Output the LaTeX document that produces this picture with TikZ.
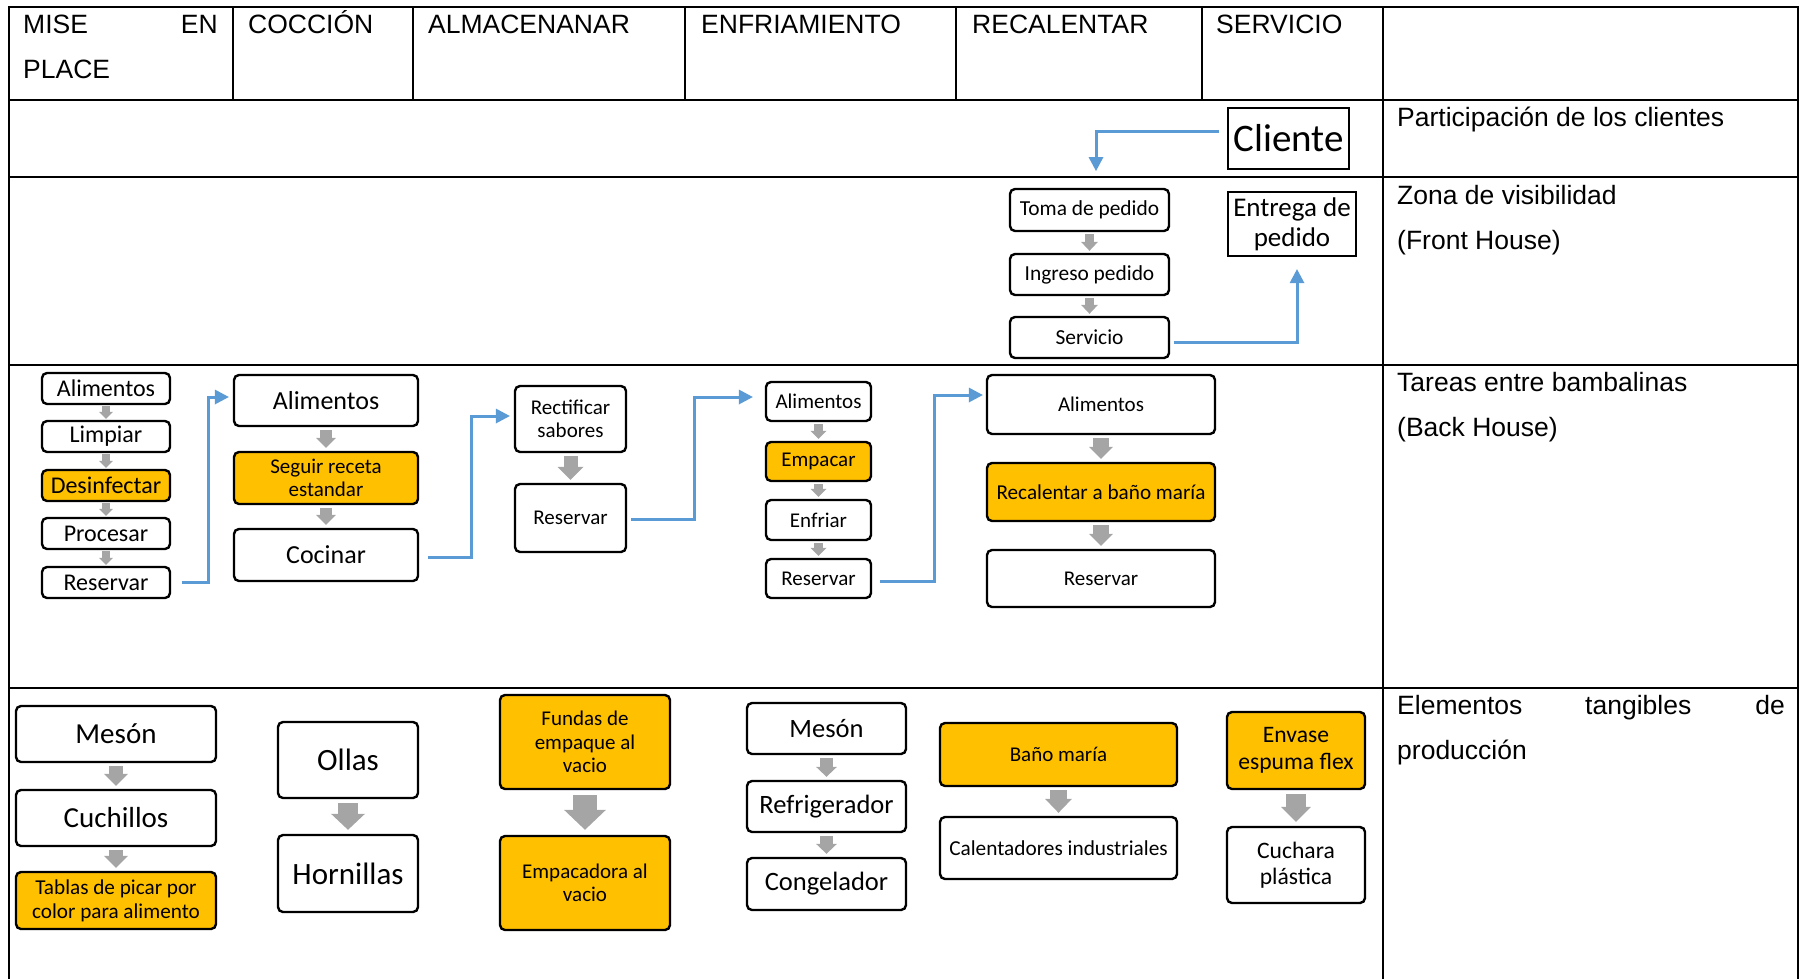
\documentclass[tikz,border=0pt]{standalone}
\usepackage{fontspec}
\setmainfont{Liberation Sans}
\newfontfamily\carl{Carlito}
\usetikzlibrary{arrows.meta,calc}
\definecolor{orangeF}{HTML}{FFC000}
\definecolor{blueL}{HTML}{5B9BD5}
\definecolor{grayA}{HTML}{A5A5A5}
\newcommand\fz[1]{\fontsize{#1}{\fpeval{1.12*#1}}\selectfont}
\newcommand\gar[6]{\draw[garr, line width=#3pt, -{Triangle[width=#4pt,length=#5pt,line width=0pt]}] ([yshift=-#6pt]#1.south) -- ([yshift=#6pt]#2.north);}
\tikzset{
  bx/.style={draw=black, line width=2.4pt, rounded corners=5pt, fill=white, inner sep=0pt, align=center},
  obx/.style={bx, fill=orangeF},
  sq/.style={draw=black, line width=2.4pt, inner sep=0pt, align=center, fill=white},
  bl/.style={draw=blueL, line width=3pt, -{Triangle[width=15pt,length=14pt,line width=0pt]}},
  garr/.style={draw=grayA},
  tbl/.style={line width=2.2pt, line cap=rect},
  hd/.style={anchor=base west, inner sep=0pt, font=\fontsize{26.5}{30}\selectfont},
}
\begin{document}
\begin{tikzpicture}[x=1pt,y=1pt]
\useasboundingbox (0,0) rectangle (1800,-978);
% table
\draw[tbl] (9,-7) -- (1798,-7);
\draw[tbl] (9,-100) -- (1798,-100);
\draw[tbl] (9,-177) -- (1798,-177);
\draw[tbl] (9,-365) -- (1798,-365);
\draw[tbl] (9,-688) -- (1798,-688);
\draw[tbl] (9,-7) -- (9,-978);
\draw[tbl] (1383,-7) -- (1383,-978);
\draw[tbl] (1798,-7) -- (1798,-978);
\foreach \xx in {233,413,685,956,1202} \draw[tbl] (\xx,-7) -- (\xx,-100);
% headers
\node[hd] (h1a) at (23,-33) {MISE};
\node[hd, anchor=base east] (h1b) at (218,-33) {EN};
\node[hd] (h1c) at (23,-78) {PLACE};
\node[hd] (h2) at (248,-33) {COCCIÓN};
\node[hd] (h3) at (428,-33) {ALMACENANAR};
\node[hd] (h4) at (701,-33) {ENFRIAMIENTO};
\node[hd] (h5) at (972,-33) {RECALENTAR};
\node[hd] (h6) at (1216,-33) {SERVICIO};
\node[hd] (r1) at (1397,-126) {Participación de los clientes};
\node[hd] (r2a) at (1397,-204) {Zona de visibilidad};
\node[hd] (r2b) at (1397,-249) {(Front House)};
\node[hd] (r3a) at (1397,-391) {Tareas entre bambalinas};
\node[hd] (r3b) at (1397,-436) {(Back House)};
\node[hd] (r4a) at (1397,-714) {Elementos};
\node[hd] (r4b) at (1585,-714) {tangibles};
\node[hd, anchor=base east] (r4c) at (1785,-714) {de};
\node[hd] (r4d) at (1397,-759) {producción};
% customer row
\node[sq, minimum width=121pt, minimum height=61pt, font=\carl\fz{39}] (cl) at (1288.5,-138.5) {Cliente};
\coordinate (clend) at (1096,-171);
\draw[bl] ([xshift=-8pt,yshift=7.5pt]cl.west) -| (clend);
% front house
\node[bx, minimum width=159pt, minimum height=42pt, font=\carl\fz{21.4}] (tp) at (1089.5,-210) {Toma de pedido};
\node[bx, minimum width=159pt, minimum height=41pt, font=\carl\fz{21.4}] (ip) at (1089.5,-274.5) {Ingreso pedido};
\node[bx, minimum width=159pt, minimum height=41pt, font=\carl\fz{21.4}] (sv) at (1089.5,-337.5) {Servicio};
\node[sq, minimum width=128pt, minimum height=64pt, font=\carl\fz{27}] (ep) at (1292,-224) {Entrega de\\pedido};
\gar{tp}{ip}{9}{17}{9}{2}
\gar{ip}{sv}{9}{17}{9}{2}
\draw[bl] ([xshift=4pt,yshift=-4.5pt]sv.east) -| ([xshift=5pt,yshift=-12pt]ep.south);
% back house col 1
\node[bx, minimum width=128pt, minimum height=31pt, font=\carl\fz{24}] (a1) at (106,-388.5) {Alimentos};
\node[bx, minimum width=128pt, minimum height=31pt, font=\carl\fz{24}] (a2) at (106,-436.5) {Limpiar};
\node[obx, minimum width=128pt, minimum height=31pt, font=\carl\fz{24}] (a3) at (106,-485.5) {Desinfectar};
\node[bx, minimum width=128pt, minimum height=31pt, font=\carl\fz{24}] (a4) at (106,-533.5) {Procesar};
\node[bx, minimum width=128pt, minimum height=31pt, font=\carl\fz{24}] (a5) at (106,-582.5) {Reservar};
\gar{a1}{a2}{8}{14}{7}{1}
\gar{a2}{a3}{8}{14}{7}{1}
\gar{a3}{a4}{8}{14}{7}{1}
\gar{a4}{a5}{8}{14}{7}{1}
% col 2
\node[bx, minimum width=184pt, minimum height=51pt, font=\carl\fz{26}] (b1) at (326,-400.5) {Alimentos};
\node[obx, minimum width=184pt, minimum height=52pt, font=\carl\fz{21}] (b2) at (326,-478) {Seguir receta\\estandar};
\node[bx, minimum width=184pt, minimum height=52pt, font=\carl\fz{26}] (b3) at (326,-555) {Cocinar};
\gar{b1}{b2}{12}{20}{10}{3}
\gar{b2}{b3}{12}{20}{10}{3}
% col 3
\node[bx, minimum width=111pt, minimum height=66pt, font=\carl\fz{21}] (c1) at (570.5,-419) {Rectificar\\sabores};
\node[bx, minimum width=111pt, minimum height=68pt, font=\carl\fz{21}] (c2) at (570.5,-518) {Reservar};
\gar{c1}{c2}{14}{26}{13}{3}
% col 4
\node[bx, minimum width=105pt, minimum height=39pt, font=\carl\fz{21}] (d1) at (818.5,-401.5) {Alimentos};
\node[obx, minimum width=105pt, minimum height=39pt, font=\carl\fz{21}] (d2) at (818.5,-461.5) {Empacar};
\node[bx, minimum width=105pt, minimum height=40pt, font=\carl\fz{21}] (d3) at (818.5,-520) {Enfriar};
\node[bx, minimum width=105pt, minimum height=39pt, font=\carl\fz{21}] (d4) at (818.5,-578.5) {Reservar};
\gar{d1}{d2}{9}{16}{8}{2}
\gar{d2}{d3}{9}{16}{8}{2}
\gar{d3}{d4}{9}{16}{8}{2}
% col 5
\node[bx, minimum width=228pt, minimum height=59pt, font=\carl\fz{21}] (e1) at (1101,-404.5) {Alimentos};
\node[obx, minimum width=228pt, minimum height=58pt, font=\carl\fz{21.2}] (e2) at (1101,-492) {Recalentar a baño maría};
\node[bx, minimum width=228pt, minimum height=57pt, font=\carl\fz{21}] (e3) at (1101,-578.5) {Reservar};
\gar{e1}{e2}{16}{24}{12}{3}
\gar{e2}{e3}{16}{24}{12}{3}
% blue flow
\draw[bl] ([xshift=11pt]a5.east) -- ++(26pt,0) |- ([xshift=-4pt,yshift=3.5pt]b1.west);
\draw[bl] ([xshift=9pt,yshift=-2pt]b3.east) -- ++(43pt,0) |- ([xshift=-4pt,yshift=3pt]c1.west);
\draw[bl] ([xshift=4pt,yshift=-1pt]c2.east) -- ++(63pt,0) |- ([xshift=-12pt,yshift=4.5pt]d1.west);
\draw[bl] ([xshift=8pt,yshift=-2.5pt]d4.east) -- ++(54pt,0) |- ([xshift=-3pt,yshift=9.5pt]e1.west);
% tangibles A
\node[bx, minimum width=200pt, minimum height=56pt, font=\carl\fz{29}] (ta1) at (116,-734) {Mesón};
\node[bx, minimum width=200pt, minimum height=56pt, font=\carl\fz{29}] (ta2) at (116,-818) {Cuchillos};
\node[obx, minimum width=200pt, minimum height=57pt, font=\carl\fz{21.2}] (ta3) at (116,-900.5) {Tablas de picar por\\color para alimento};
\gar{ta1}{ta2}{14}{24}{12}{3}
\gar{ta2}{ta3}{14}{24}{12}{3}
% B
\node[bx, minimum width=140pt, minimum height=76pt, font=\carl\fz{31}] (tb1) at (348,-760) {Ollas};
\node[bx, minimum width=140pt, minimum height=77pt, font=\carl\fz{31}] (tb2) at (348,-873.5) {Hornillas};
\gar{tb1}{tb2}{20}{34}{16}{4}
% C
\node[obx, minimum width=170pt, minimum height=94pt, font=\carl\fz{21}] (tc1) at (585,-742) {Fundas de\\empaque al\\vacio};
\node[obx, minimum width=170pt, minimum height=94pt, font=\carl\fz{21}] (tc2) at (585,-883) {Empacadora al\\vacio};
\gar{tc1}{tc2}{24}{42}{20}{5}
% D
\node[bx, minimum width=159pt, minimum height=51pt, font=\carl\fz{26.5}] (td1) at (826.5,-728.5) {Mesón};
\node[bx, minimum width=159pt, minimum height=51pt, font=\carl\fz{26.5}] (td2) at (826.5,-806.5) {Refrigerador};
\node[bx, minimum width=159pt, minimum height=52pt, font=\carl\fz{26.5}] (td3) at (826.5,-884) {Congelador};
\gar{td1}{td2}{13}{21}{10}{3}
\gar{td2}{td3}{13}{21}{10}{3}
% E
\node[obx, minimum width=237pt, minimum height=63pt, font=\carl\fz{21}] (te1) at (1058.5,-754.5) {Baño maría};
\node[bx, minimum width=237pt, minimum height=62pt, font=\carl\fz{21.3}] (te2) at (1058.5,-848) {Calentadores industriales};
\gar{te1}{te2}{17}{27}{14}{3}
% F
\node[obx, minimum width=138pt, minimum height=77pt, font=\carl\fz{23.6}] (tf1) at (1296,-750.5) {Envase\\espuma flex};
\node[bx, minimum width=138pt, minimum height=76pt, font=\carl\fz{23.6}] (tf2) at (1296,-865) {Cuchara\\plástica};
\gar{tf1}{tf2}{20}{30}{15}{4}
\end{tikzpicture}
\end{document}
